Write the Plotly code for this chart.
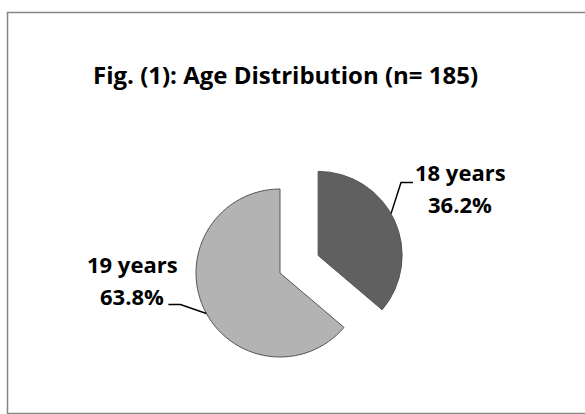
import math
import plotly.graph_objects as go

# Data
labels = ["18 years", "19 years"]
counts = [67, 118]
colors = ["#606060", "#b3b3b3"]
pulls = [0.5, 0.0]
title_text = "Fig. (1): Age Distribution (n= 185)"

W, H = 585, 414
ML, MR, MT, MB = 0, 25, 147, 15
PW, PH = W - ML - MR, H - MT - MB


def px(x, y):
    return (x - ML) / PW, (H - MB - y) / PH


total = sum(counts)
pcts = [c / total * 100 for c in counts]

fig = go.Figure(go.Pie(
    labels=labels,
    values=counts,
    marker=dict(colors=colors, line=dict(color="#555555", width=1)),
    pull=pulls,
    sort=False,
    direction="clockwise",
    rotation=0,
    textinfo="none",
    hoverinfo="label+percent",
    showlegend=False,
))

# pie geometry (plotly: r = min(box)/(2+2*maxPull))
r = min(PW, PH) / (2 + 2 * max(pulls))
cx, cy = ML + PW / 2, MT + PH / 2

FAM = "Open Sans, Lato, sans-serif"
font = dict(family=FAM, size=22, color="black")

# (x center, y of line 1, y of line 2, side)
label_pos = [(460, 172, 204, "left"), (132, 264, 296, "right")]
edge_angle_shift = [-5, -4]
annotations = []
shapes = []
start = 0.0
for i, (lab, c, p) in enumerate(zip(labels, counts, pcts)):
    span = c / total * 360
    bis = math.radians(start + span / 2)
    mid = math.radians(start + span / 2 + edge_angle_shift[i])
    ox = pulls[i] * r * math.sin(bis)
    oy = -pulls[i] * r * math.cos(bis)
    ex = cx + ox + r * math.sin(mid)
    ey = cy + oy - r * math.cos(mid)
    lx, ly1, ly2, side = label_pos[i]
    for txt, ly in ((lab, ly1), (f"{p:.1f}%", ly2)):
        xx, yy = px(lx, ly)
        annotations.append(dict(x=xx, y=yy, xref="paper", yref="paper",
                                xanchor="center", yanchor="middle",
                                text=f"<b>{txt}</b>", showarrow=False,
                                font=font, align="center"))
    if side == "left":
        elbow = (ex + 10, ey - 31)
        end = (elbow[0] + 12, elbow[1])
    else:
        elbow = (ex - 26, ey - 9)
        end = (elbow[0] - 12, elbow[1])
    pts = [px(*end), px(*elbow), px(ex, ey)]
    path = "M {} {} L {} {} L {} {}".format(*[v for pt in pts for v in pt])
    shapes.append(dict(type="path", xref="paper", yref="paper", path=path,
                       line=dict(color="black", width=1.5)))
    start += span

# chart border
bx0, by0 = px(7.5, 12.5)
bx1, by1 = px(590, 413.5)
shapes.append(dict(type="rect", xref="paper", yref="paper", x0=bx0, y0=by0,
                   x1=bx1, y1=by1, line=dict(color="#868686", width=1.5),
                   layer="below"))

tx, ty = px(285, 75)
annotations.append(dict(x=tx, y=ty, xref="paper", yref="paper",
                        xanchor="center", yanchor="middle",
                        text=f"<b>{title_text}</b>", showarrow=False,
                        font=dict(family=FAM, size=24, color="black")))

fig.update_layout(
    width=W, height=H,
    margin=dict(l=ML, r=MR, t=MT, b=MB),
    paper_bgcolor="white", plot_bgcolor="white",
    annotations=annotations, shapes=shapes,
)

fig.write_html(
    "out.html",
    config={"displayModeBar": False},
    post_script="document.body.style.margin='0';document.body.style.overflow='hidden';",
)
